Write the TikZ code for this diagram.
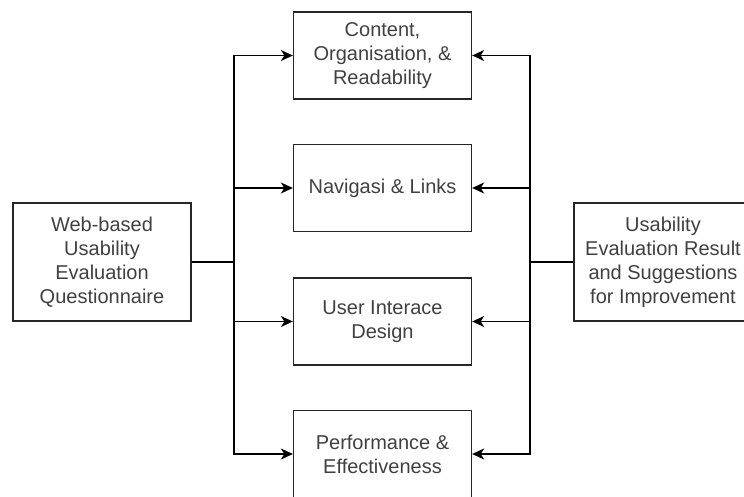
\documentclass[tikz,border=0pt]{standalone}
\usepackage{fontspec}
\setmainfont{Liberation Sans}
\usetikzlibrary{arrows.meta}

\tikzset{
  box/.style={draw=black!85, line width=1.3pt, align=center, text=black!75,
              minimum width=178pt, inner sep=2pt,
              font=\fontsize{20}{24}\selectfont},
  aspectbox/.style={box, minimum height=87pt},
  sidebox/.style={box, minimum height=118pt},
  link/.style={line width=1.4pt, ->, >={Stealth[length=12pt,width=11pt,inset=3.5pt]}},
}

\begin{document}
\begin{tikzpicture}[x=1pt, y=-1pt]

\useasboundingbox (0,0) rectangle (744,497);
\clip (0,0) rectangle (744,497);

% Questionnaire and result
\node[sidebox] (quest)  at (102,262) {Web-based\\Usability\\Evaluation\\Questionnaire};
\node[sidebox] (result) at (663,262) {Usability\\Evaluation Result\\and Suggestions\\for Improvement};

% Aspects
\node[aspectbox] (content) at (382.5,55.5)  {Content,\\Organisation, \&\\Readability};
\node[aspectbox] (nav)     at (382.5,188)   {Navigasi \& Links};
\node[aspectbox] (ui)      at (382.5,321.5) {User Interace\\Design};
\node[aspectbox] (perf)    at (382.5,454)   {Performance \&\\Effectiveness};

% Junctions
\coordinate (lhub) at (234,262);
\coordinate (rhub) at (530,262);

% Connections
\draw[link] (quest) -- (lhub) |- (content);
\draw[link] (quest) -- (lhub) |- (nav);
\draw[link] (quest) -- (lhub) |- (ui);
\draw[link] (quest) -- (lhub) |- (perf);

\draw[link] (result) -- (rhub) |- (content);
\draw[link] (result) -- (rhub) |- (nav);
\draw[link] (result) -- (rhub) |- (ui);
\draw[link] (result) -- (rhub) |- (perf);

\end{tikzpicture}
\end{document}
